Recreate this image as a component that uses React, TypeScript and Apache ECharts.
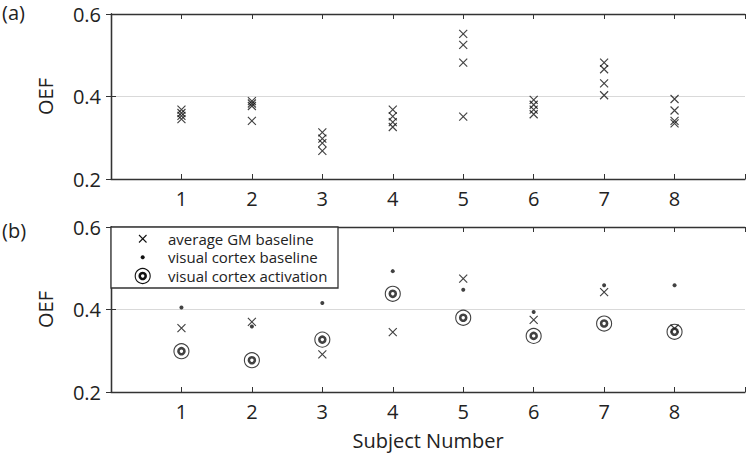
import React, { useEffect, useRef } from "react";
import * as echarts from "echarts";

const subjects = [1, 2, 3, 4, 5, 6, 7, 8];
const xTickLabels = ["1", "2", "3", "4", "5", "6", "7", "8"];
const yTicks = [0.2, 0.4, 0.6];

// Panel (a): repeated OEF measurements per subject
const panelA = [
  [0.368, 0.36, 0.353, 0.345],
  [0.389, 0.383, 0.377, 0.341],
  [0.313, 0.298, 0.287, 0.268],
  [0.368, 0.352, 0.338, 0.326],
  [0.552, 0.525, 0.482, 0.351],
  [0.392, 0.38, 0.368, 0.357],
  [0.482, 0.466, 0.432, 0.403],
  [0.394, 0.366, 0.341, 0.335],
];

// Panel (b)
const gmBaseline = [0.355, 0.37, 0.291, 0.345, 0.475, 0.375, 0.442, 0.354];
const vcBaseline = [0.405, 0.359, 0.416, 0.493, 0.448, 0.394, 0.459, 0.459];
const vcActivation = [0.299, 0.277, 0.327, 0.438, 0.38, 0.336, 0.366, 0.346];

const legendNames = [
  "average GM baseline",
  "visual cortex baseline",
  "visual cortex activation",
];

const FONT = "Open Sans";
const TXT = "#222";
const AX = "#333";
const CROSS = "path://M0,0L10,10M10,0L0,10";

export default function App() {
  const ref = useRef<HTMLDivElement>(null);
  useEffect(() => {
    if (!ref.current) return;
    const chart = echarts.init(ref.current, null, { renderer: "svg" });

    const xBase = (gridIndex: number, bottom: boolean) => ({
      type: "value",
      gridIndex,
      position: bottom ? "bottom" : "top",
      min: 0,
      max: 9,
      interval: 1,
      axisLine: { show: true, lineStyle: { color: AX, width: 1.3 } },
      axisTick: { show: true, inside: true, length: 5, lineStyle: { color: AX, width: 1 } },
      splitLine: { show: false },
      axisLabel: bottom
        ? {
            show: true,
            margin: 9,
            fontSize: 20,
            fontFamily: FONT,
            color: TXT,
            formatter: (v: number) => {
              const i = subjects.indexOf(v);
              return i >= 0 ? xTickLabels[i] : "";
            },
          }
        : { show: false },
    });

    const yBase = (gridIndex: number, left: boolean) => ({
      type: "value",
      gridIndex,
      position: left ? "left" : "right",
      min: yTicks[0],
      max: yTicks[yTicks.length - 1],
      interval: 0.2,
      axisLine: { show: true, lineStyle: { color: AX, width: 1.3 } },
      axisTick: { show: true, inside: true, length: 5, lineStyle: { color: AX, width: 1 } },
      splitLine: left ? { show: true, lineStyle: { color: "#d9d9d9", width: 1 } } : { show: false },
      axisLabel: left
        ? {
            show: true,
            margin: 10,
            fontSize: 20,
            fontFamily: FONT,
            color: TXT,
            formatter: (v: number) => v.toFixed(1),
          }
        : { show: false },
      name: left ? "OEF" : "",
      nameLocation: "middle",
      nameGap: 56,
      nameTextStyle: { fontSize: 20, fontFamily: FONT, color: TXT },
    });

    const xAxes: any[] = [xBase(0, true), xBase(0, false), xBase(1, true), xBase(1, false)];
    xAxes[2].name = "Subject Number";
    xAxes[2].nameLocation = "middle";
    xAxes[2].nameGap = 38;
    xAxes[2].nameTextStyle = { fontSize: 20, fontFamily: FONT, color: TXT };

    const crossStyle = { color: "transparent", borderColor: "#111", borderWidth: 1.15 };

    const dataA: number[][] = [];
    panelA.forEach((vals, i) => vals.forEach((v) => dataA.push([subjects[i], v])));

    const option: any = {
      animation: false,
      backgroundColor: "#fff",
      grid: [
        { left: 111, top: 14, width: 634, height: 165 },
        { left: 111, top: 227, width: 634, height: 165 },
      ],
      xAxis: xAxes,
      yAxis: [yBase(0, true), yBase(0, false), yBase(1, true), yBase(1, false)],
      series: [
        {
          type: "scatter",
          xAxisIndex: 0,
          yAxisIndex: 0,
          symbol: CROSS,
          symbolSize: 8,
          itemStyle: crossStyle,
          data: dataA,
        },
        {
          name: legendNames[0],
          type: "scatter",
          xAxisIndex: 2,
          yAxisIndex: 2,
          symbol: CROSS,
          symbolSize: 8,
          itemStyle: crossStyle,
          data: subjects.map((s, i) => [s, gmBaseline[i]]),
        },
        {
          name: legendNames[1],
          type: "scatter",
          xAxisIndex: 2,
          yAxisIndex: 2,
          symbol: "circle",
          symbolSize: 4,
          itemStyle: { color: "#111" },
          data: subjects.map((s, i) => [s, vcBaseline[i]]),
        },
        {
          name: legendNames[2],
          type: "scatter",
          xAxisIndex: 2,
          yAxisIndex: 2,
          symbol: "circle",
          symbolSize: 15,
          itemStyle: { color: "transparent", borderColor: "#111", borderWidth: 1.1 },
          data: subjects.map((s, i) => [s, vcActivation[i]]),
        },
        {
          type: "scatter",
          xAxisIndex: 2,
          yAxisIndex: 2,
          symbol: "circle",
          symbolSize: 6,
          itemStyle: { color: "#fff", borderColor: "#111", borderWidth: 2.6 },
          data: subjects.map((s, i) => [s, vcActivation[i]]),
        },
      ],
      graphic: [
        { type: "text", left: 2, top: 2, style: { text: "(a)", fontSize: 20, fontFamily: FONT, fill: TXT } },
        { type: "text", left: 2, top: 220, style: { text: "(b)", fontSize: 20, fontFamily: FONT, fill: TXT } },
        {
          type: "rect",
          z: 100,
          shape: { x: 111, y: 227, width: 227, height: 61 },
          style: { fill: "#fff", stroke: AX, lineWidth: 1.3 },
        },
        { type: "line", z: 101, shape: { x1: 139, y1: 235, x2: 146.5, y2: 242.5 }, style: { stroke: "#111", lineWidth: 1.1 } },
        { type: "line", z: 101, shape: { x1: 146.5, y1: 235, x2: 139, y2: 242.5 }, style: { stroke: "#111", lineWidth: 1.1 } },
        { type: "circle", z: 101, shape: { cx: 142.7, cy: 257.2, r: 2 }, style: { fill: "#111" } },
        { type: "circle", z: 101, shape: { cx: 142.7, cy: 276, r: 7.5 }, style: { fill: "transparent", stroke: "#111", lineWidth: 1.1 } },
        { type: "circle", z: 101, shape: { cx: 142.7, cy: 276, r: 3 }, style: { fill: "#fff", stroke: "#111", lineWidth: 2.6 } },
        ...legendNames.map((n, i) => ({
          type: "text",
          z: 101,
          x: 168,
          y: [238.5, 257.2, 276][i],
          style: {
            text: n,
            fontSize: 15,
            lineHeight: 16,
            fontFamily: FONT,
            fill: TXT,
            verticalAlign: "middle",
          },
        })),
      ],
    };
    chart.setOption(option);
    return () => chart.dispose();
  }, []);
  return <div ref={ref} style={{ width: 750, height: 457, position: "absolute", left: 0, top: 0 }} />;
}
